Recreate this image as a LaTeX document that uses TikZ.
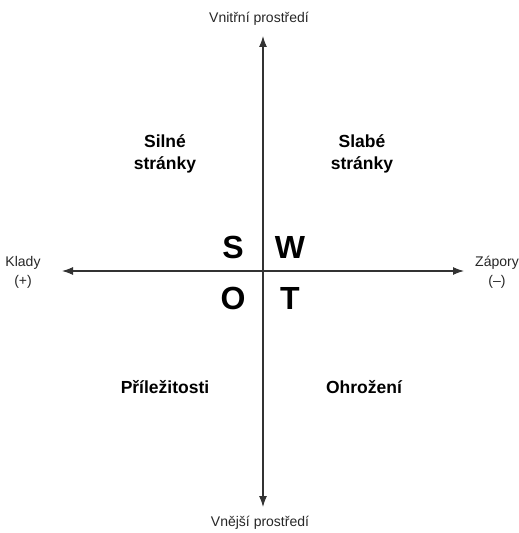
\documentclass[tikz,border=0pt]{standalone}
\usepackage{fontspec}
\setmainfont{Liberation Sans}
\usetikzlibrary{arrows.meta}
\begin{document}
\begin{tikzpicture}[x=1bp,y=-1bp,
  axis/.style={draw=black!80,line width=1.1bp,{Latex[length=11bp,width=8bp]}-{Latex[length=11bp,width=8bp]}},
  small/.style={font=\fontsize{14bp}{19bp}\selectfont,align=center,text=black!85},
  quad/.style={font=\fontsize{17.5bp}{22bp}\selectfont\bfseries,align=center},
  letter/.style={font=\fontsize{32bp}{32bp}\selectfont\bfseries}]
\useasboundingbox (0,0) rectangle (519,533);
% axes
\coordinate (top) at (263,36);
\coordinate (bottom) at (263,507);
\coordinate (left) at (62,271);
\coordinate (right) at (464,271);
\draw[axis] (bottom) -- (top);
\draw[axis] (left) -- (right);
% axis labels
\node[small] (inner) at (259,19) {Vnitřní prostředí};
\node[small] (outer) at (260,523) {Vnější prostředí};
\node[small] (plus) at (23,272) {Klady\\(+)};
\node[small] (minus) at (497,272) {Zápory\\(–)};
% quadrant captions
\node[quad] (sq) at (165,154) {Silné\\stránky};
\node[quad] (wq) at (362,154) {Slabé\\stránky};
\node[quad] (oq) at (165,387) {Příležitosti};
\node[quad] (tq) at (364,387) {Ohrožení};
% SWOT letters
\node[letter] (s) at (233,247) {S};
\node[letter] (w) at (290,247) {W};
\node[letter] (o) at (233,298) {O};
\node[letter] (t) at (290,298) {T};
\end{tikzpicture}
\end{document}
